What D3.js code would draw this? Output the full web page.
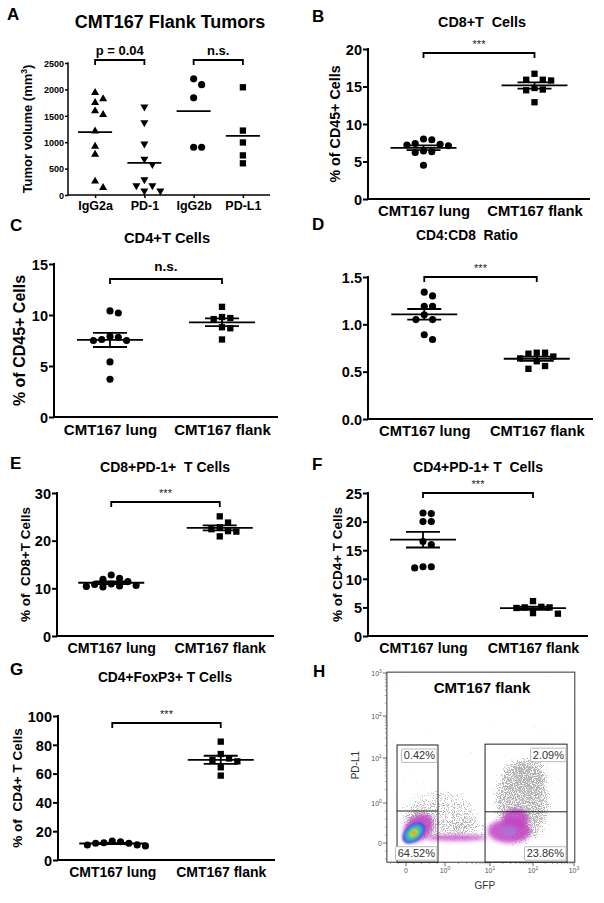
<!DOCTYPE html>
<html><head><meta charset="utf-8">
<script src="https://cdn.jsdelivr.net/npm/d3@7"></script>
<style>body{margin:0;background:#fff} svg{display:block} text{white-space:pre}</style>
</head><body>
<svg id="fig" width="604" height="903" xmlns="http://www.w3.org/2000/svg"></svg>
<script>
// ================= DATA =================
// Panel A
const aCategories = ["IgG2a", "PD-1", "IgG2b", "PD-L1"];
const aIgG2a = [1940, 1820, 1750, 1590, 1520, 1210, 920, 770, 260, 140];
const aPD1   = [1670, 1370, 970, 680, 580, 290, 180, 180, 80, 80];
const aIgG2b = [2200, 2090, 1840, 905, 905];
const aPDL1  = [2040, 1220, 995, 750, 600];
const aTicks = [0, 500, 1000, 1500, 2000, 2500];

// Panels B-G
const groups = ["CMT167 lung", "CMT167 flank"];
const bLung  = [8.0, 7.9, 7.4, 7.3, 7.2, 7.1, 6.4, 6.3, 6.2, 4.5];
const bFlank = [16.7, 15.9, 15.8, 15.9, 14.8, 14.6, 14.5, 12.9];
const bTicks = [0, 5, 10, 15, 20];
const cLung  = [10.4, 10.2, 7.9, 7.8, 7.6, 7.5, 7.5, 5.4, 3.7];
const cFlank = [10.8, 9.8, 9.7, 9.6, 8.8, 8.7, 7.6];
const cTicks = [0, 5, 10, 15];
const dLung  = [1.34, 1.30, 1.19, 1.19, 1.10, 1.05, 1.05, 0.89, 0.84];
const dFlank = [0.70, 0.70, 0.69, 0.66, 0.64, 0.61, 0.56, 0.53];
const dTicks = [0, 0.5, 1.0, 1.5];
const eLung  = [12.8, 12.1, 11.9, 11.4, 10.9, 10.8, 10.6, 10.5, 10.4, 10.3];
const eFlank = [25.1, 23.8, 22.8, 22.4, 22.0, 21.9, 20.9];
const eTicks = [0, 10, 20, 30];
const fLung  = [21.5, 21.4, 20.0, 20.0, 16.5, 16.0, 12.1, 12.1, 11.9];
const fFlank = [6.1, 5.1, 5.0, 5.0, 4.9, 4.0, 3.9];
const fTicks = [0, 5, 10, 15, 20, 25];
const gLung  = [13.2, 12.7, 12.0, 11.6, 11.6, 10.5, 10.4, 9.8];
const gFlank = [82.2, 73.6, 70.5, 69.4, 68.5, 64.4, 58.6];
const gTicks = [0, 20, 40, 60, 80, 100];

// Panel H (flow cytometry, display units: 0, 10^0, 10^1, 10^2, 10^3 -> 0..4)
const hTickPos = [0, 1, 2, 3, 4];
const hTickExp = [null, 0, 1, 2, 3];
const hGates = [
  {x0: -0.23, x1: 0.82, y0: -0.48, y1: 2.31, split: 0.80, top: "0.42%", bottom: "64.52%"},
  {x0: 1.89, x1: 3.83, y0: -0.48, y1: 2.33, split: 0.78, top: "2.09%", bottom: "23.86%"}
];
const hGrayClouds = [
  {x: 2.74, y: 1.05, rx: 0.68, ry: 0.95, d: 0.80},
  {x: 2.93, y: 1.62, rx: 0.45, ry: 0.45, d: 0.55},
  {x: 0.87, y: 0.70, rx: 0.85, ry: 0.60, d: 0.55},
  {x: 0.36, y: 0.45, rx: 0.40, ry: 0.37, d: 0.70},
  {x: 1.55, y: 0.35, rx: 0.50, ry: 0.30, d: 0.45}
];
const hMagenta = [
  {x: 2.45, y: 0.30, rx: 0.50, ry: 0.30, rot: 0},
  {x: 2.60, y: 0.62, rx: 0.30, ry: 0.25, rot: 0},
  {x: 1.25, y: 0.13, rx: 0.70, ry: 0.07, rot: 0},
  {x: 0.32, y: 0.38, rx: 0.42, ry: 0.30, rot: -40}
];
const hCore = {x: 0.20, y: 0.25, rx: 0.34, ry: 0.21, rot: -40};
const hCoreLevels = [1.0, 0.78, 0.58, 0.40, 0.25, 0.13];
const hCoreColors = ["#4a4fd8", "#2fa8e6", "#3fc48a", "#9ad63a", "#e6d52e", "#e0301e"];

// ================= DRAW =================
const FONT = "'Liberation Sans', Arial, Helvetica, sans-serif";
const svg = d3.select("#fig");

function letter(t, x, y) {
  svg.append("text").attr("x", x).attr("y", y).attr("font-family", FONT)
    .attr("font-weight", "bold").attr("font-size", 17).text(t);
}

function swarm(values, yScale, step, diam) {
  const pts = values.map((v, i) => ({v, i, py: yScale(v)})).sort((a, b) => a.py - b.py);
  const placed = [];
  for (const p of pts) {
    const cands = [0];
    for (let k = 1; k < 12; k++) cands.push(k * step, -k * step);
    for (const c of cands) {
      if (placed.every(q => Math.hypot(q.dx - c, q.py - p.py) >= diam)) { p.dx = c; break; }
    }
    placed.push(p);
  }
  return placed;
}

function symbolPath(kind, size) {
  const m = {circle: d3.symbolCircle, square: d3.symbolSquare, tri: d3.symbolTriangle, tridown: d3.symbolTriangle};
  const s = (kind === "tri" || kind === "tridown") ? size * 0.7 : size;
  return d3.symbol().type(m[kind]).size(s)();
}

function dotPanel(c) {
  const g = svg.append("g");
  const x = d3.scalePoint().domain(c.cats).range([c.left, c.right]).padding(c.pad);
  const y = d3.scaleLinear().domain([0, c.max]).range([c.bottom, c.top]);

  const yAxis = d3.axisLeft(y).tickValues(c.ticks).tickSize(c.tickLen).tickSizeOuter(0)
    .tickPadding(c.tickPad).tickFormat(c.fmt);
  const ya = g.append("g").attr("transform", `translate(${c.left},0)`).call(yAxis);
  ya.selectAll("text").attr("font-size", c.tickFont).attr("font-family", FONT)
    .attr("font-weight", "bold").attr("fill", "#000").attr("dy", "0.36em");
  ya.select(".domain").attr("stroke", "#000").attr("stroke-width", c.axisW)
    .attr("d", `M0,${c.bottom + c.axisW / 2}V${c.top - c.axisW / 2}`);
  ya.selectAll(".tick line").attr("stroke", "#000").attr("stroke-width", c.axisW);

  g.append("line").attr("x1", c.left).attr("x2", c.right)
    .attr("y1", c.bottom).attr("y2", c.bottom).attr("stroke", "#000").attr("stroke-width", c.axisW);

  const xa = g.append("g").attr("transform", `translate(0,${c.bottom})`)
    .call(d3.axisBottom(x).tickSize(c.xTick || 0).tickSizeOuter(0));
  xa.select(".domain").remove();
  xa.selectAll(".tick line").attr("stroke", "#000").attr("stroke-width", c.axisW);
  xa.selectAll("text").attr("y", c.catDy).attr("dy", 0).attr("font-size", c.catFont)
    .attr("font-family", FONT).attr("font-weight", c.catWeight).attr("fill", "#000");

  g.append("text").attr("x", c.titleX).attr("y", c.titleY).attr("text-anchor", "middle")
    .attr("font-family", FONT).attr("font-weight", "bold").attr("font-size", c.titleFont).text(c.title);

  if (c.ylabel) {
    const t = g.append("text").attr("transform", `translate(${c.ylabelX},${(c.top + c.bottom) / 2}) rotate(-90)`)
      .attr("text-anchor", "middle").attr("dy", "0.36em").attr("font-family", FONT)
      .attr("font-weight", "bold").attr("font-size", c.ylabelFont);
    t.text(c.ylabel);
    if (c.ylabelSup) t.append("tspan").attr("baseline-shift", "super").attr("font-size", c.ylabelFont * 0.65).text(c.ylabelSup);
    if (c.ylabelTail) t.append("tspan").text(c.ylabelTail);
  }

  c.series.forEach((s, si) => {
    const cx = x(c.cats[si]);
    const pts = swarm(s.values, y, c.step, c.diam);
    g.selectAll(null).data(pts).join("path")
      .attr("d", symbolPath(s.shape, c.symSize))
      .attr("transform", d => `translate(${cx + d.dx},${d.py})` + (s.shape === "tridown" ? " rotate(180)" : ""))
      .attr("fill", "#000");
    const m = d3.mean(s.values);
    g.append("line").attr("x1", cx - c.meanHW).attr("x2", cx + c.meanHW)
      .attr("y1", y(m)).attr("y2", y(m)).attr("stroke", "#000").attr("stroke-width", c.meanW);
    if (c.sem) {
      const se = d3.deviation(s.values) / Math.sqrt(s.values.length);
      [m - se, m + se].forEach(v => g.append("line").attr("x1", cx - c.semHW).attr("x2", cx + c.semHW)
        .attr("y1", y(v)).attr("y2", y(v)).attr("stroke", "#000").attr("stroke-width", c.meanW));
      g.append("line").attr("x1", cx).attr("x2", cx).attr("y1", y(m - se)).attr("y2", y(m + se))
        .attr("stroke", "#000").attr("stroke-width", c.meanW);
    }
  });

  c.brackets.forEach(b => {
    const x1 = x(b.a), x2 = x(b.b);
    g.append("path").attr("d", `M${x1},${b.y + 5}V${b.y}H${x2}V${b.y + 5}`)
      .attr("fill", "none").attr("stroke", "#000").attr("stroke-width", 1.8);
    g.append("text").attr("x", (x1 + x2) / 2).attr("y", b.y - b.gap).attr("text-anchor", "middle")
      .attr("font-family", FONT).attr("font-weight", b.weight || "bold").attr("font-size", b.font)
      .attr("fill", b.fill || "#000").text(b.text);
  });
}

const common = {pad: 0.5, tickLen: 5, tickPad: 1, tickFont: 14.5, axisW: 2, catDy: 16.5, catFont: 14.5,
  catWeight: "bold", titleFont: 14, ylabelFont: 13.5, step: 8.3, diam: 7.6, symSize: 40, meanHW: 33, semHW: 17,
  meanW: 1.8, sem: true};
const star = {text: "***", font: 11, gap: 5, weight: "normal", fill: "#222"};

// ---- A ----
letter("A", 7, 20);
dotPanel({...common, cats: aCategories, left: 68, right: 270, pad: 0.55, top: 63, bottom: 195, max: 2500,
  ticks: aTicks, fmt: d3.format("d"), tickLen: 3, tickPad: 1, tickFont: 9, axisW: 1.5, xTick: 3,
  catDy: 15, catFont: 12.5, catWeight: "bold", title: "CMT167 Flank Tumors", titleX: 170, titleY: 28, titleFont: 18,
  ylabel: "Tumor volume (mm", ylabelSup: "3", ylabelTail: ")", ylabelX: 27, ylabelFont: 13,
  step: 8, diam: 7.2, symSize: 40, meanHW: 17, sem: false,
  series: [{values: aIgG2a, shape: "tri"}, {values: aPD1, shape: "tridown"}, {values: aIgG2b, shape: "circle"}, {values: aPDL1, shape: "square"}],
  brackets: [{a: "IgG2a", b: "PD-1", y: 60, gap: 5, text: "p = 0.04", font: 13},
             {a: "IgG2b", b: "PD-L1", y: 60, gap: 5, text: "n.s.", font: 13}]});

// ---- B ----
letter("B", 312, 22);
dotPanel({...common, cats: groups, left: 368, right: 590, top: 49, bottom: 199, max: 20, ticks: bTicks,
  fmt: d3.format("d"), catFont: 14.8, title: "CD8+T  Cells", titleX: 482, titleY: 27, titleFont: 14.3,
  ylabel: "% of CD45+ Cells", ylabelX: 335, ylabelFont: 14.3,
  series: [{values: bLung, shape: "circle"}, {values: bFlank, shape: "square"}],
  brackets: [{...star, a: groups[0], b: groups[1], y: 53, gap: 5}]});

// ---- C ----
letter("C", 10, 231);
dotPanel({...common, cats: groups, left: 54, right: 278, top: 264, bottom: 417, max: 15, ticks: cTicks,
  fmt: d3.format("d"), catFont: 15, catDy: 18, title: "CD4+T Cells", titleX: 167, titleY: 243, titleFont: 14.7,
  ylabel: "% of CD45+ Cells", ylabelX: 19, ylabelFont: 16,
  series: [{values: cLung, shape: "circle"}, {values: cFlank, shape: "square"}],
  brackets: [{a: groups[0], b: groups[1], y: 279, gap: 8, text: "n.s.", font: 13.5}]});

// ---- D ----
letter("D", 312, 230);
dotPanel({...common, cats: groups, left: 368, right: 593, top: 277, bottom: 419, max: 1.5, ticks: dTicks,
  fmt: d3.format(".1f"), catFont: 14.7, title: "CD4:CD8  Ratio", titleX: 467, titleY: 240, titleFont: 13.8,
  ylabel: null,
  series: [{values: dLung, shape: "circle"}, {values: dFlank, shape: "square"}],
  brackets: [{...star, a: groups[0], b: groups[1], y: 277, gap: 5}]});

// ---- E ----
letter("E", 10, 469);
dotPanel({...common, cats: groups, left: 57, right: 274, top: 493, bottom: 636, max: 30, ticks: eTicks,
  fmt: d3.format("d"), catFont: 14.2, title: "CD8+PD-1+  T Cells", titleX: 165, titleY: 472,
  ylabel: "% of  CD8+T Cells", ylabelX: 25, ylabelFont: 13.5,
  series: [{values: eLung, shape: "circle"}, {values: eFlank, shape: "square"}],
  brackets: [{...star, a: groups[0], b: groups[1], y: 502, gap: 5}]});

// ---- F ----
letter("F", 312, 470);
dotPanel({...common, cats: groups, left: 368, right: 588, top: 493, bottom: 636, max: 25, ticks: fTicks,
  fmt: d3.format("d"), catFont: 14.2, title: "CD4+PD-1+ T  Cells", titleX: 478, titleY: 472,
  ylabel: "% of CD4+ T Cells", ylabelX: 337, ylabelFont: 13.5,
  series: [{values: fLung, shape: "circle"}, {values: fFlank, shape: "square"}],
  brackets: [{...star, a: groups[0], b: groups[1], y: 493, gap: 5}]});

// ---- G ----
letter("G", 10, 675);
dotPanel({...common, cats: groups, left: 58, right: 275, top: 716, bottom: 860, max: 100, ticks: gTicks,
  fmt: d3.format("d"), catFont: 14, title: "CD4+FoxP3+ T Cells", titleX: 165, titleY: 682, titleFont: 13.8,
  ylabel: "% of  CD4+ T Cells", ylabelX: 17, ylabelFont: 13.6,
  series: [{values: gLung, shape: "circle"}, {values: gFlank, shape: "square"}],
  brackets: [{...star, a: groups[0], b: groups[1], y: 723, gap: 5}]});

// ---- H ----
letter("H", 313, 677);
(function () {
  const hx = d3.scaleLinear().domain(hTickPos).range([406, 445, 490, 533, 574]);
  const hy = d3.scaleLinear().domain(hTickPos).range([843, 803, 758, 716, 673]);
  const X0 = hx(-0.49), X1 = hx(4.02), Y0 = hy(4.02), Y1 = hy(-0.48);
  const g = svg.append("g");
  const defs = svg.append("defs");
  defs.append("clipPath").attr("id", "hclip").append("rect")
    .attr("x", X0).attr("y", Y0).attr("width", X1 - X0).attr("height", Y1 - Y0);

  const f = defs.append("filter").attr("id", "speck").attr("filterUnits", "userSpaceOnUse")
    .attr("x", X0).attr("y", Y0).attr("width", X1 - X0).attr("height", Y1 - Y0);
  f.append("feTurbulence").attr("type", "fractalNoise").attr("baseFrequency", 0.9)
    .attr("numOctaves", 2).attr("seed", 5).attr("result", "n");
  f.append("feColorMatrix").attr("in", "n").attr("type", "matrix")
    .attr("values", "0 0 0 0 0  0 0 0 0 0  0 0 0 0 0  1 0 0 0 0").attr("result", "na");
  f.append("feGaussianBlur").attr("in", "SourceAlpha").attr("stdDeviation", 5).attr("result", "b");
  f.append("feComposite").attr("in", "na").attr("in2", "b").attr("operator", "arithmetic")
    .attr("k1", 0).attr("k2", 1).attr("k3", 0.5).attr("k4", -0.8).attr("result", "m");
  f.append("feColorMatrix").attr("in", "m").attr("type", "matrix")
    .attr("values", "0 0 0 0 0.45  0 0 0 0 0.45  0 0 0 0 0.45  0 0 0 7 0");

  const blur2 = defs.append("filter").attr("id", "blur2").attr("x", "-50%").attr("y", "-50%")
    .attr("width", "200%").attr("height", "200%");
  blur2.append("feGaussianBlur").attr("stdDeviation", 2);
  const blur1 = defs.append("filter").attr("id", "blur1").attr("x", "-50%").attr("y", "-50%")
    .attr("width", "200%").attr("height", "200%");
  blur1.append("feGaussianBlur").attr("stdDeviation", 1.2);

  const rxp = d => Math.abs(hx(d.x + d.rx) - hx(d.x));
  const ryp = d => Math.abs(hy(d.y + d.ry) - hy(d.y));

  const plot = g.append("g").attr("clip-path", "url(#hclip)");
  plot.append("g").attr("filter", "url(#speck)").selectAll("ellipse").data(hGrayClouds).join("ellipse")
    .attr("cx", d => hx(d.x)).attr("cy", d => hy(d.y)).attr("rx", rxp).attr("ry", ryp)
    .attr("fill", "#000").attr("fill-opacity", d => d.d);

  plot.append("g").attr("filter", "url(#blur2)").selectAll("ellipse").data(hMagenta).join("ellipse")
    .attr("transform", d => `translate(${hx(d.x)},${hy(d.y)}) rotate(${d.rot})`)
    .attr("rx", rxp).attr("ry", ryp).attr("fill", "#c240c4").attr("fill-opacity", 0.85);
  plot.append("ellipse").attr("filter", "url(#blur2)")
    .attr("cx", hx(hMagenta[0].x)).attr("cy", hy(hMagenta[0].y))
    .attr("rx", rxp(hMagenta[0]) * 0.4).attr("ry", ryp(hMagenta[0]) * 0.45).attr("fill", "#a878d8").attr("fill-opacity", 0.8);

  plot.append("g").attr("filter", "url(#blur1)").selectAll("ellipse").data(hCoreLevels).join("ellipse")
    .attr("transform", `translate(${hx(hCore.x)},${hy(hCore.y)}) rotate(${hCore.rot})`)
    .attr("rx", k => rxp(hCore) * k).attr("ry", k => ryp(hCore) * k)
    .attr("fill", (k, i) => hCoreColors[i]);

  g.append("rect").attr("x", X0).attr("y", Y0).attr("width", X1 - X0).attr("height", Y1 - Y0)
    .attr("fill", "none").attr("stroke", "#333").attr("stroke-width", 1);

  const minor = [];
  hTickPos.slice(1, 4).forEach(p => { for (let k = 2; k <= 9; k++) minor.push(p + Math.log10(k)); });
  [-0.4, -0.2, 0.2, 0.4, 0.6, 0.8].forEach(v => minor.push(v));
  g.selectAll(".ytk").data(hTickPos).join("line").attr("x1", X0).attr("x2", X0 - 4)
    .attr("y1", d => hy(d)).attr("y2", d => hy(d)).attr("stroke", "#444").attr("stroke-width", 0.8);
  g.selectAll(".ymn").data(minor).join("line").attr("x1", X0).attr("x2", X0 - 2)
    .attr("y1", d => hy(d)).attr("y2", d => hy(d)).attr("stroke", "#666").attr("stroke-width", 0.6);
  g.selectAll(".xtk").data(hTickPos).join("line").attr("y1", Y1).attr("y2", Y1 + 4)
    .attr("x1", d => hx(d)).attr("x2", d => hx(d)).attr("stroke", "#444").attr("stroke-width", 0.8);
  g.selectAll(".xmn").data(minor).join("line").attr("y1", Y1).attr("y2", Y1 + 2)
    .attr("x1", d => hx(d)).attr("x2", d => hx(d)).attr("stroke", "#666").attr("stroke-width", 0.6);

  function tickLabel(sel, i) {
    if (hTickExp[i] === null) { sel.text("0"); return; }
    sel.text("10");
    sel.append("tspan").attr("baseline-shift", "super").attr("font-size", 5).text(hTickExp[i]);
  }
  hTickPos.forEach((p, i) => {
    const ty = g.append("text").attr("x", X0 - 5).attr("y", hy(p) + 2.5).attr("text-anchor", "end")
      .attr("font-family", FONT).attr("font-size", 7).attr("fill", "#555");
    tickLabel(ty, i);
    const tx = g.append("text").attr("x", hx(p)).attr("y", Y1 + 11).attr("text-anchor", "middle")
      .attr("font-family", FONT).attr("font-size", 7).attr("fill", "#555");
    tickLabel(tx, i);
  });
  g.append("text").attr("x", (X0 + X1) / 2 + 4).attr("y", 889).attr("text-anchor", "middle")
    .attr("font-family", FONT).attr("font-size", 10).attr("fill", "#333").text("GFP");
  g.append("text").attr("transform", `translate(355,${(Y0 + Y1) / 2 - 2}) rotate(-90)`).attr("text-anchor", "middle")
    .attr("dy", "0.36em").attr("font-family", FONT).attr("font-size", 10).attr("fill", "#333").text("PD-L1");
  g.append("text").attr("x", 482).attr("y", 693).attr("text-anchor", "middle").attr("font-family", FONT)
    .attr("font-weight", "bold").attr("font-size", 15).text("CMT167 flank");

  hGates.forEach(q => {
    const gx0 = hx(q.x0), gx1 = hx(q.x1), gy0 = hy(q.y1), gy1 = Math.min(hy(q.y0), Y1), gs = hy(q.split);
    g.append("rect").attr("x", gx0).attr("y", gy0).attr("width", gx1 - gx0).attr("height", gy1 - gy0)
      .attr("fill", "none").attr("stroke", "#222").attr("stroke-width", 1);
    g.append("line").attr("x1", gx0).attr("x2", gx1).attr("y1", gs).attr("y2", gs)
      .attr("stroke", "#222").attr("stroke-width", 1);
    [[q.top, gy0 + 4, "top"], [q.bottom, gy1 - 2, "bottom"]].forEach(([txt, yy, pos]) => {
      const lg = g.append("g");
      const r = lg.append("rect");
      const t = lg.append("text").attr("x", gx1 - 3).attr("text-anchor", "end")
        .attr("font-family", FONT).attr("font-size", 11).attr("fill", "#333").text(txt);
      const bb = t.node().getBBox();
      const h = 13.5;
      const top = pos === "top" ? yy : yy - h;
      t.attr("y", top + 10.5);
      r.attr("x", gx1 - bb.width - 5).attr("y", top).attr("width", bb.width + 4).attr("height", h)
        .attr("fill", "#fff").attr("stroke", "#aaa").attr("stroke-width", 0.8).attr("rx", 1);
    });
  });
})();
</script>
</body></html>
